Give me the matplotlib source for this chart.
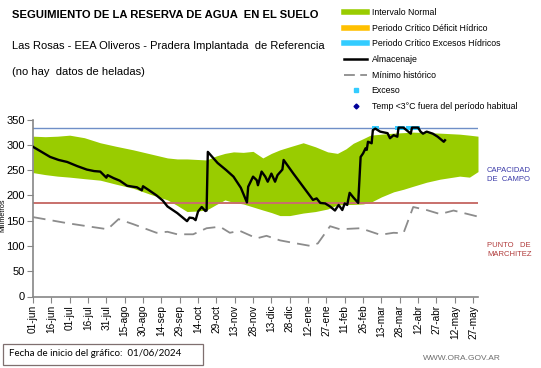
import matplotlib.pyplot as plt
from matplotlib.lines import Line2D
from matplotlib.patches import Rectangle

plt.rcParams['font.family'] = ['Liberation Sans', 'DejaVu Sans']

# days since 01/06/2024
band_days = [0, 10, 20, 30, 42, 55, 68, 82, 96, 110, 118, 126, 134, 142, 150, 157, 164, 172, 180, 188,
             195, 202, 210, 221, 231, 241, 249, 256, 262, 270, 276, 285, 295, 303, 311, 322, 333, 341, 349, 357, 364]
band_upper = [317, 316, 317, 319, 314, 304, 297, 290, 282, 274, 272, 272, 271, 270, 278, 283, 286, 285, 287, 274,
              283, 290, 296, 304, 296, 286, 283, 292, 303, 312, 319, 321, 323, 324, 325, 324, 323, 322, 321, 319, 317]
band_lower = [245, 241, 238, 236, 233, 230, 222, 214, 202, 191, 180, 168, 169, 171, 182, 191, 186, 183, 177, 171,
              166, 160, 160, 165, 168, 173, 181, 182, 182, 183, 186, 197, 207, 212, 218, 226, 232, 235, 238, 236, 247]

alm_days = [0, 7, 14, 21, 28, 36, 44, 50, 55, 60, 61, 66, 71, 77, 82, 85, 89, 90, 95, 101, 106, 110, 118, 126,
            128, 131, 133, 135, 138, 141, 142, 143, 151, 158, 164, 170, 175, 176, 180, 183, 184, 187, 190, 192,
            195, 198, 200, 204, 205, 213, 221, 229, 232, 235, 239, 243, 247, 250, 253, 255, 257, 259, 262, 266,
            268, 270, 272, 273, 274, 277, 278, 280, 282, 284, 290, 292, 295, 298, 299, 303, 306, 309, 310, 315,
            317, 319, 322, 327, 331, 336, 337]
alm_vals = [296, 286, 276, 270, 266, 258, 251, 248, 247, 235, 240, 234, 229, 219, 217, 216, 210, 218, 210, 200,
            190, 178, 165, 149, 156, 155, 151, 168, 177, 169, 170, 286, 264, 250, 237, 215, 186, 217, 237, 230,
            220, 247, 237, 227, 243, 227, 240, 251, 270, 243, 217, 191, 194, 185, 184, 178, 170, 181, 171, 184,
            181, 205, 196, 185, 276, 283, 293, 290, 306, 303, 329, 332, 329, 326, 323, 313, 319, 316, 334, 334,
            328, 322, 334, 334, 326, 322, 326, 322, 316, 306, 309]

min_days = [0, 14, 28, 47, 61, 70, 82, 101, 110, 118, 131, 142, 153, 161, 169, 183, 191, 202, 213, 227, 233,
            243, 251, 268, 284, 295, 303, 311, 322, 333, 344, 364]
min_vals = [157, 151, 145, 138, 133, 153, 143, 126, 128, 123, 123, 135, 138, 126, 130, 115, 120, 111, 106, 100,
            105, 139, 133, 135, 122, 126, 125, 177, 171, 163, 170, 158]

exceso_days = [279, 280, 281, 298, 299, 300, 301, 302, 303, 307, 308, 309, 310, 311, 312, 313, 314, 315]
exceso_vals = [334] * len(exceso_days)

capacidad_campo = 333
punto_marchitez = 185

tick_days = list(range(0, 361, 15))
tick_labels = ['01-jun', '16-jun', '01-jul', '16-jul', '31-jul', '15-ago', '30-ago', '14-sep', '29-sep',
               '14-oct', '29-oct', '13-nov', '28-nov', '13-dic', '28-dic', '12-ene', '27-ene', '11-feb',
               '26-feb', '13-mar', '28-mar', '12-abr', '27-abr', '12-may', '27-may']

green = '#99cc00'
fig = plt.figure(figsize=(5.41, 3.68), dpi=100)
ax = fig.add_axes([33 / 541, 1 - 296.5 / 368, 445 / 541, 177 / 368])

ax.fill_between(band_days, band_lower, band_upper, color=green, linewidth=0, zorder=1)
ax.axhline(capacidad_campo, color='#6f8fc7', linewidth=1.0, zorder=2)
ax.axhline(punto_marchitez, color='#c8706b', linewidth=1.4, zorder=2)
ax.plot(min_days, min_vals, color='#8c8c8c', linewidth=1.3, dashes=(7, 4), zorder=3)
ax.plot(exceso_days, exceso_vals, linestyle='none', marker='s', markersize=3, color='#33ccff',
        markeredgewidth=0, zorder=4)
ax.plot(alm_days, alm_vals, color='black', linewidth=1.7, zorder=5)

ax.set_xlim(0, 364)
ax.set_ylim(0, 350)
ax.set_yticks(range(0, 351, 50))
ax.set_xticks(tick_days)
ax.set_xticklabels(tick_labels, rotation=90, fontsize=7.3)
ax.tick_params(axis='y', labelsize=8, length=4, width=0.8, color='#868686', pad=2)
ax.tick_params(axis='x', length=4, width=0.8, color='#868686', pad=2)
for s in ['top', 'right']:
    ax.spines[s].set_visible(False)
for s in ['left', 'bottom']:
    ax.spines[s].set_color('#868686')
    ax.spines[s].set_linewidth(1.2)
ax.set_ylabel('Milímetros', fontsize=5.2)
ax.yaxis.set_label_coords(-0.0595, 0.46)

fig.text(12 / 541, 1 - 15 / 368, 'SEGUIMIENTO DE LA RESERVA DE AGUA  EN EL SUELO', fontsize=8.1,
         fontweight='bold', va='center')
fig.text(12 / 541, 1 - 46 / 368, 'Las Rosas - EEA Oliveros - Pradera Implantada  de Referencia', fontsize=8,
         va='center')
fig.text(12 / 541, 1 - 72 / 368, '(no hay  datos de heladas)', fontsize=8, va='center')

handles = [Line2D([], [], color=green, linewidth=4),
           Line2D([], [], color='#ffc000', linewidth=4),
           Line2D([], [], color='#33ccff', linewidth=4),
           Line2D([], [], color='black', linewidth=1.8),
           Line2D([], [], color='#8c8c8c', linewidth=1.3, dashes=(6, 3)),
           Line2D([], [], linestyle='none', marker='s', markersize=2.5, color='#33ccff'),
           Line2D([], [], linestyle='none', marker='D', markersize=2.5, color='#000099')]
labels = ['Intervalo Normal', 'Periodo Crítico Déficit Hídrico', 'Periodo Crítico Excesos Hídricos',
          'Almacenaje', 'Mínimo histórico', 'Exceso', 'Temp <3°C fuera del período habitual']
fig.legend(handles, labels, loc='upper left', bbox_to_anchor=(340 / 541, 1 - 4 / 368), frameon=False,
           fontsize=6.3, handlelength=2.6, handletextpad=0.5, labelspacing=0.75, borderpad=0)

fig.text(487 / 541, 1 - 175 / 368, 'CAPACIDAD\nDE  CAMPO', fontsize=5.5, color='#3a3aa8', va='center',
         linespacing=1.3)
fig.text(487 / 541, 1 - 250 / 368, 'PUNTO   DE\nMARCHITEZ', fontsize=5.5, color='#b03a3a', va='center',
         linespacing=1.3)

fig.patches.append(Rectangle((3 / 541, 1 - 365 / 368), 200 / 541, 21 / 368, transform=fig.transFigure,
                             fill=False, edgecolor='#7f6f6f', linewidth=0.9))
fig.text(9 / 541, 1 - 354 / 368, 'Fecha de inicio del gráfico:  01/06/2024', fontsize=7,
         family=['Lato', 'DejaVu Sans'], va='center')
fig.text(423 / 541, 1 - 358 / 368, 'WWW.ORA.GOV.AR', fontsize=6, color='#6e6e6e', va='center')

fig.savefig('out.png', dpi=100)
